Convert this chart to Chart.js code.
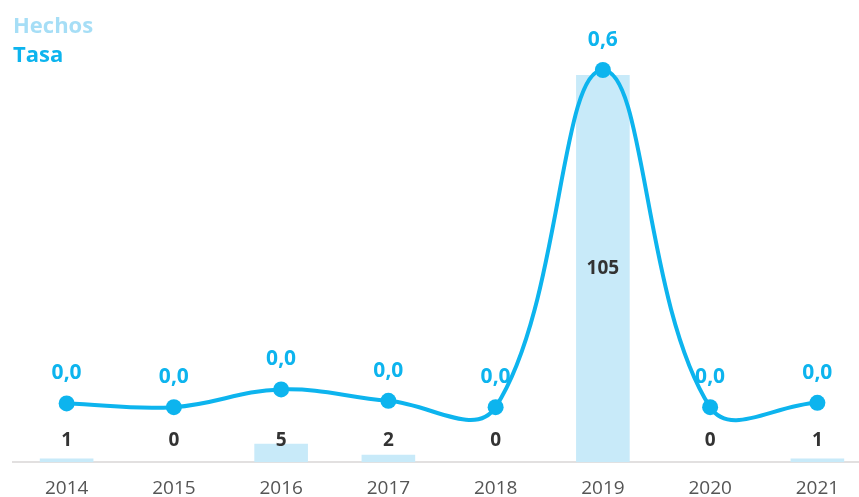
<!DOCTYPE html>
<html>
<head>
<meta charset="utf-8">
<script src="https://cdn.jsdelivr.net/npm/chart.js@4"></script>
<style>
html,body{margin:0;padding:0;overflow:hidden;background:#fff;}
#wrap{width:884px;height:515px;}
</style>
</head>
<body>
<div id="wrap"><canvas id="c" width="884" height="515"></canvas></div>
<script>
const years = ['2014','2015','2016','2017','2018','2019','2020','2021'];
const hechos = [1, 0, 5, 2, 0, 105, 0, 1];
const tasa = [0.0066, 0, 0.0315, 0.0112, 0, 0.6, 0, 0.0077];
const seriesNames = ['Hechos', 'Tasa'];
const barColor = '#c8eaf9';
const lineColor = '#0db4ee';
const legendColors = ['#a6def6', '#0db4ee'];
const FONT = "'Open Sans', 'Noto Sans', sans-serif";

const fmt = v => v.toFixed(1).replace('.', ',');

const labelPlugin = {
  id: 'labels',
  afterDatasetsDraw(chart) {
    const ctx = chart.ctx;
    ctx.save();
    ctx.textAlign = 'center';
    ctx.textBaseline = 'middle';
    const barMeta = chart.getDatasetMeta(0);
    ctx.font = "bold 19px " + FONT;
    ctx.fillStyle = '#333333';
    barMeta.data.forEach((bar, i) => {
      const y = Math.min((bar.y + bar.base) / 2, bar.base - 22);
      ctx.fillText(String(hechos[i]), bar.x, y);
    });
    const lineMeta = chart.getDatasetMeta(1);
    ctx.font = "bold 21px " + FONT;
    ctx.fillStyle = lineColor;
    lineMeta.data.forEach((pt, i) => {
      ctx.fillText(fmt(tasa[i]), pt.x, pt.y - 30);
    });
    ctx.textAlign = 'left';
    ctx.font = "bold 22px " + FONT;
    ctx.fillStyle = legendColors[0];
    ctx.fillText(seriesNames[0], 13, 27);
    ctx.fillStyle = legendColors[1];
    ctx.fillText(seriesNames[1], 13, 56);
    ctx.restore();
  }
};

new Chart(document.getElementById('c'), {
  type: 'bar',
  data: {
    labels: years,
    datasets: [
      {
        type: 'bar',
        label: seriesNames[0],
        data: hechos,
        backgroundColor: barColor,
        barPercentage: 0.5,
        categoryPercentage: 1,
        yAxisID: 'y',
        order: 2
      },
      {
        type: 'line',
        label: seriesNames[1],
        data: tasa,
        borderColor: lineColor,
        backgroundColor: lineColor,
        borderWidth: 4,
        pointRadius: 8,
        pointBackgroundColor: lineColor,
        pointBorderWidth: 0,
        tension: 0.4,
        fill: false,
        yAxisID: 'y1',
        order: 1,
        clip: false
      }
    ]
  },
  options: {
    responsive: false,
    animation: false,
    layout: { autoPadding: false, padding: { left: 13, right: 13, top: 0, bottom: 0 } },
    plugins: { legend: { display: false }, tooltip: { enabled: false } },
    scales: {
      x: {
        grid: { display: false, drawTicks: false },
        border: { display: true, color: '#e2e0e0', width: 2 },
        ticks: { color: '#555555', font: { family: FONT, size: 19 }, padding: 15 }
      },
      y: { display: false, min: 0, max: 125.35 },
      y1: { display: false, min: -0.098, max: 0.7246 }
    }
  },
  plugins: [labelPlugin]
});
</script>
</body>
</html>
